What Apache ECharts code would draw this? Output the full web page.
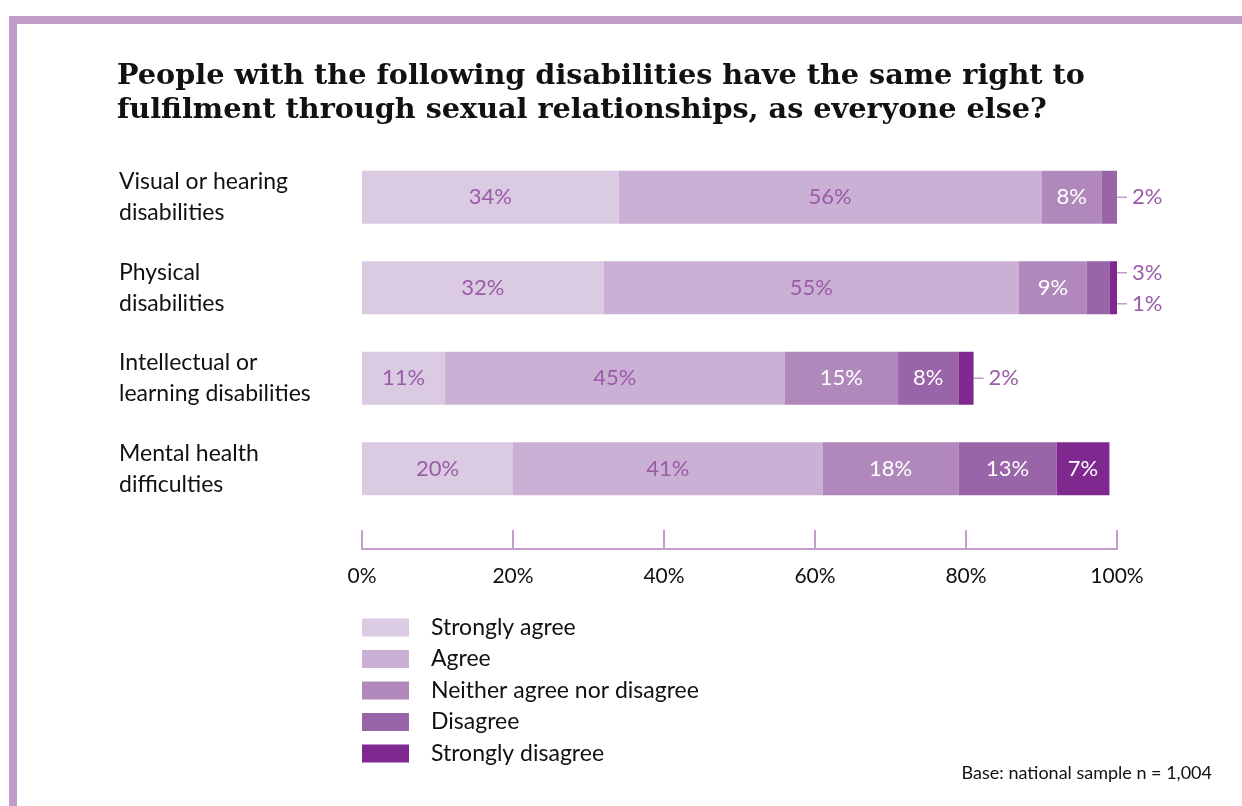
<!DOCTYPE html>
<html>
<head>
<meta charset="utf-8">
<script src="https://cdn.jsdelivr.net/npm/echarts@6/dist/echarts.min.js"></script>
<style>
  html, body { margin: 0; padding: 0; background: #ffffff; }
  #chart { width: 1242px; height: 806px; }
</style>
</head>
<body>
<div id="chart"></div>
<script>
// Survey responses per disability group (percent of respondents)
const categories = [
  'Visual or hearing\ndisabilities',
  'Physical\ndisabilities',
  'Intellectual or\nlearning disabilities',
  'Mental health\ndifficulties'
];
const responseNames = ['Strongly agree', 'Agree', 'Neither agree nor disagree', 'Disagree', 'Strongly disagree'];
const stronglyAgree    = [34, 32, 11, 20];
const agree            = [56, 55, 45, 41];
const neither          = [8, 9, 15, 18];
const disagree         = [2, 3, 8, 13];
const stronglyDisagree = [0, 1, 2, 7];
const xTicks = [0, 20, 40, 60, 80, 100];

const responseValues = [stronglyAgree, agree, neither, disagree, stronglyDisagree];
const colors = ['#DACBE3', '#CBB0D5', '#B088BC', '#9964A8', '#7F2890'];
const labelColors = ['#9A5CA8', '#9A5CA8', '#ffffff', '#ffffff', '#ffffff'];
const accent = '#C29DC9';
const bodyFont = 'Lato, "Open Sans", sans-serif';

const chart = echarts.init(document.getElementById('chart'), null, { renderer: 'canvas' });

const series = responseNames.map((name, i) => ({
  name: name,
  type: 'bar',
  stack: 'total',
  barWidth: 53,
  itemStyle: { color: colors[i] },
  label: {
    show: true,
    position: 'inside',
    fontFamily: bodyFont,
    fontSize: 22,
    color: labelColors[i],
    formatter: p => (p.value >= 5 ? p.value + '%' : '')
  },
  emphasis: { disabled: true },
  data: responseValues[i]
}));

chart.setOption({
  animation: false,
  backgroundColor: '#ffffff',
  title: {
    text: 'People with the following disabilities have the same right to\nfulfilment through sexual relationships, as everyone else?',
    left: 112,
    top: 55,
    textStyle: {
      fontFamily: '"DejaVu Serif", serif',
      fontWeight: 'bold',
      fontSize: 28.7,
      lineHeight: 34,
      color: '#111111'
    }
  },
  legend: {
    orient: 'vertical',
    left: 357,
    top: 611,
    itemWidth: 47,
    itemHeight: 18,
    itemGap: 8.5,
    icon: 'rect',
    selectedMode: false,
    data: responseNames,
    textStyle: {
      fontFamily: bodyFont,
      fontSize: 23,
      lineHeight: 23,
      color: '#111111',
      padding: [0, 0, 0, 17]
    }
  },
  grid: { left: 362, right: 125, top: 152, height: 362, containLabel: false },
  xAxis: {
    type: 'value',
    min: xTicks[0],
    max: xTicks[xTicks.length - 1],
    interval: 20,
    offset: 35,
    axisLine: { show: true, lineStyle: { color: accent, width: 2 } },
    axisTick: { show: true, inside: true, length: 19, lineStyle: { color: accent, width: 2 } },
    splitLine: { show: false },
    axisLabel: {
      formatter: '{value}%',
      fontFamily: bodyFont,
      fontSize: 21,
      color: '#111111',
      margin: 17
    }
  },
  yAxis: {
    type: 'category',
    inverse: true,
    data: categories,
    axisLine: { show: false },
    axisTick: { show: false },
    axisLabel: {
      align: 'left',
      margin: 243,
      fontFamily: bodyFont,
      fontSize: 23,
      lineHeight: 31,
      color: '#111111'
    }
  },
  series: series
});

// Small segments get their value written outside the bar, joined by a thin leader line
function buildLeaders() {
  const elements = [];
  categories.forEach((cat, row) => {
    const total = responseValues.reduce((s, arr) => s + arr[row], 0);
    const endX = chart.convertToPixel({ xAxisIndex: 0 }, total);
    const cy = chart.convertToPixel({ yAxisIndex: 0 }, row);
    let start = 0;
    const small = [];
    responseValues.forEach(arr => {
      const v = arr[row];
      if (v > 0 && v < 5) small.push({ v: v, mid: start + v / 2 });
      start += v;
    });
    small.forEach((s, k) => {
      const dy = small.length > 1 ? (k === 0 ? -15 : 16) : 0;
      const mx = chart.convertToPixel({ xAxisIndex: 0 }, s.mid);
      const pts = dy === 0
        ? [[mx, cy], [endX + 10, cy]]
        : [[mx, cy + (dy < 0 ? 0 : 1)], [mx, cy + dy], [endX + 10, cy + dy]];
      elements.push({
        type: 'polyline',
        silent: true,
        shape: { points: pts },
        style: { stroke: accent, lineWidth: 1.5, fill: null }
      });
      elements.push({
        type: 'text',
        silent: true,
        x: endX + 15,
        y: cy + dy,
        style: {
          text: s.v + '%',
          fontFamily: bodyFont,
          fontSize: 22,
          fill: '#9A5CA8',
          verticalAlign: 'middle',
          align: 'left'
        }
      });
    });
  });
  return elements;
}

const frame = [
  { type: 'rect', silent: true, shape: { x: 9, y: 16, width: 1233, height: 8 }, style: { fill: accent } },
  { type: 'rect', silent: true, shape: { x: 9, y: 16, width: 8, height: 790 }, style: { fill: accent } },
  {
    type: 'text', silent: true, x: 1212, y: 773,
    style: {
      text: 'Base: national sample n = 1,004',
      fontFamily: bodyFont, fontSize: 18, fill: '#111111',
      align: 'right', verticalAlign: 'middle'
    }
  }
];

chart.setOption({ graphic: frame.concat(buildLeaders()) });
</script>
</body>
</html>
